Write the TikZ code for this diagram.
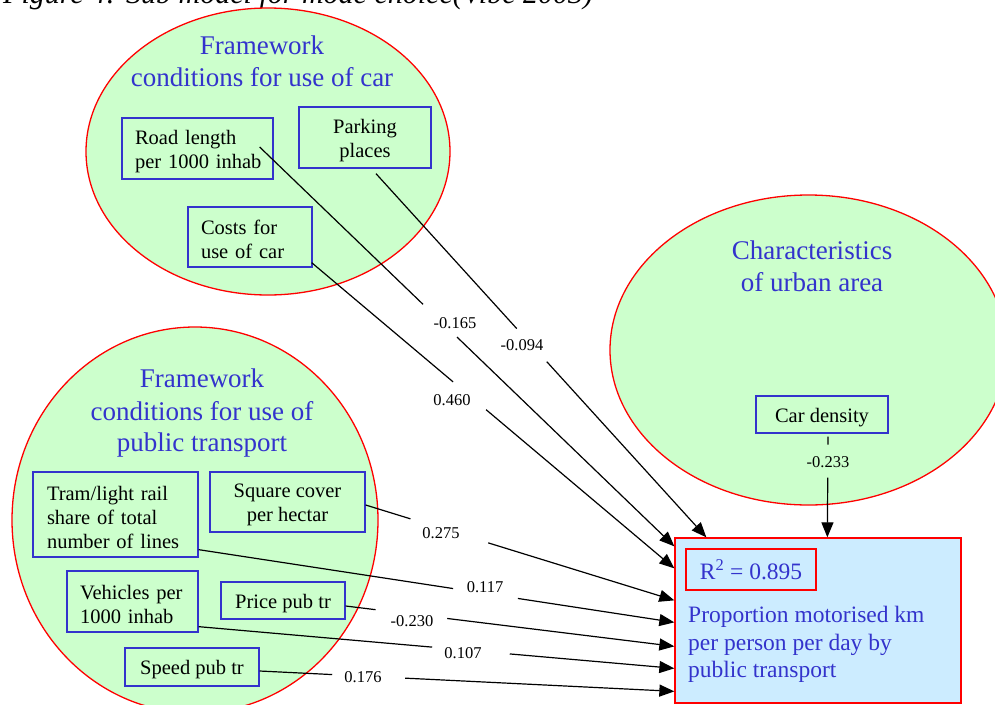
\documentclass[tikz,border=0pt]{standalone}
\usepackage{fontspec}
\setmainfont{Liberation Serif}
\usetikzlibrary{shapes.geometric,arrows.meta,calc}

\definecolor{bubble}{HTML}{CCFFCC}
\definecolor{rimred}{HTML}{FF0000}
\definecolor{boxblue}{HTML}{3333CC}
\definecolor{goalfill}{HTML}{CCECFF}

% extra head room on the first line of a box, so its text sits a little lower
\newcommand{\headroom}{\rule{0pt}{20pt}}

\tikzset{
  grp/.style={ellipse, draw=rimred, fill=bubble, line width=1.3pt, inner sep=0pt},
  grptitle/.style={text=boxblue, align=center, inner sep=0pt,
                   font=\fontsize{27}{32}\selectfont},
  var/.style={rectangle, draw=boxblue, fill=bubble, line width=1.3pt, inner sep=0pt,
              font=\fontsize{20.5}{24}\selectfont},
  varc/.style={var, align=center},
  varl/.style={var, align=left},
  coef/.style={inner sep=1pt, font=\fontsize{16.5}{19}\selectfont},
  link/.style={line width=1.2pt, black},
  arr/.style={link, -{Triangle[length=15pt,width=12pt]}},
}

\begin{document}
\begin{tikzpicture}[x=1pt,y=-1pt]
\useasboundingbox (0,0) rectangle (995,704);
\clip (0,0) rectangle (995,704);

% caption running off the top edge
\node[anchor=base west, inner sep=0pt, font=\fontsize{30}{34}\selectfont\itshape]
  (caption) at (3,3.5) {Figure 4: Sub model for mode choice(Vibe 2003)};

% groups of explanatory variables
\node[grp, minimum width=364pt, minimum height=287pt] (grpcar) at (268,151.5) {};
\node[grp, minimum width=366pt, minimum height=386pt] (grppt) at (195,520) {};
\node[grp, minimum width=397pt, minimum height=310pt] (grpurb) at (808.5,350) {};

\node[grptitle] (ttlcar) at (262,61) {Framework\\conditions for use of car};
\node[grptitle] (ttlpt) at (202,413.5) {Framework\\conditions for use of\\public transport};
\node[grptitle] (ttlurb) at (812,266) {Characteristics\\of urban area};

% variables
\node[varl, text width=125pt, inner xsep=13pt, minimum height=61pt] (road) at (197.5,148.5)
  {\headroom\mbox{Road length}\\\mbox{per 1000 inhab}};
\node[varc, minimum width=132pt, minimum height=61pt] (park) at (365,137.5)
  {\headroom Parking\\places};
\node[varl, text width=98pt, inner xsep=13pt, minimum height=60pt] (cost) at (250,237)
  {\headroom\mbox{Costs for}\\\mbox{use of car}};
\node[varl, text width=137pt, inner xsep=14pt, minimum height=85pt] (tram) at (115.5,514.5)
  {\headroom\mbox{Tram/light rail}\\\mbox{share of total}\\\mbox{number of lines}};
\node[varc, minimum width=155pt, minimum height=60pt] (square) at (287.5,502)
  {\headroom Square cover\\per hectar};
\node[varl, text width=105pt, inner xsep=13pt, minimum height=61pt] (veh) at (132.5,601.5)
  {\headroom\mbox{Vehicles per}\\\mbox{1000 inhab}};
\node[varc, minimum width=124pt, minimum height=37pt] (price) at (283,600.5)
  {\headroom Price pub tr};
\node[varc, minimum width=134pt, minimum height=38pt] (speed) at (192,667)
  {\headroom Speed pub tr};
\node[varc, minimum width=132pt, minimum height=37pt] (car) at (822,414.5)
  {\headroom Car density};

% dependent variable
\node[rectangle, draw=rimred, fill=goalfill, line width=1.3pt,
      minimum width=286pt, minimum height=165pt, inner sep=0pt] (tgt) at (818,620.5) {};
\node[rectangle, draw=rimred, line width=1.3pt, minimum width=130pt, minimum height=41pt,
      inner sep=0pt, text=boxblue, font=\fontsize{23.5}{27}\selectfont]
  (r2) at (751,569.5) {R\textsuperscript{2} = 0.895};
\node[anchor=west, inner sep=0pt, align=left, text=boxblue,
      font=\fontsize{23.5}{27.5}\selectfont]
  (tgttxt) at (688,644.5) {Proportion motorised km\\per person per day by\\public transport};

% connector end points
\coordinate (sA) at ($(road.east)+(-14,-1.5)$);
\coordinate (sB) at ($(park.south)+(11,5)$);
\coordinate (sC) at ($(cost.south east)+(-1,-5)$);
\coordinate (sD) at ($(square.east)+(0,3)$);
\coordinate (sE) at ($(tram.south east)+(0,-8)$);
\coordinate (sF) at ($(price.east)+(0,5.5)$);
\coordinate (sG) at ($(veh.south east)+(0,-6)$);
\coordinate (sH) at ($(speed.east)+(0,4)$);
\coordinate (sI) at ($(car.south)+(6,3)$);

\coordinate (eA) at ($(tgt.north west)+(0,9)$);
\coordinate (eB) at ($(tgt.north west)+(32,0)$);
\coordinate (eC) at ($(tgt.north west)+(0,31)$);
\coordinate (eD) at ($(tgt.north west)+(0,63)$);
\coordinate (eE) at ($(tgt.north west)+(0,85)$);
\coordinate (eF) at ($(tgt.north west)+(0,109)$);
\coordinate (eG) at ($(tgt.north west)+(0,131)$);
\coordinate (eH) at ($(tgt.north west)+(0,154)$);
\coordinate (eI) at ($(tgt.north west)+(153,0)$);

% paths, broken where the coefficient is written
\foreach \s/\e/\a/\b in {sA/eA/0.394/0.476, sB/eB/0.426/0.517, sC/eC/0.390/0.481,
                         sD/eD/0.145/0.397, sE/eE/0.535/0.671, sF/eF/0.091/0.309,
                         sG/eG/0.491/0.654, sH/eH/0.175/0.351, sI/eI/0.079/0.406} {
  \draw[link] (\s) -- ($(\s)!\a!(\e)$);
  \draw[arr] ($(\s)!\b!(\e)$) -- (\e);
}

% path coefficients
\node[coef] (cA) at (455,323) {-0.165};
\node[coef] (cB) at (522,345) {-0.094};
\node[coef] (cC) at (452,400) {0.460};
\node[coef] (cD) at (441,533) {0.275};
\node[coef] (cE) at (485,587) {0.117};
\node[coef] (cF) at (412,621) {-0.230};
\node[coef] (cG) at (463,653) {0.107};
\node[coef] (cH) at (363,677) {0.176};
\node[coef] (cI) at (828,462) {-0.233};
\end{tikzpicture}
\end{document}
